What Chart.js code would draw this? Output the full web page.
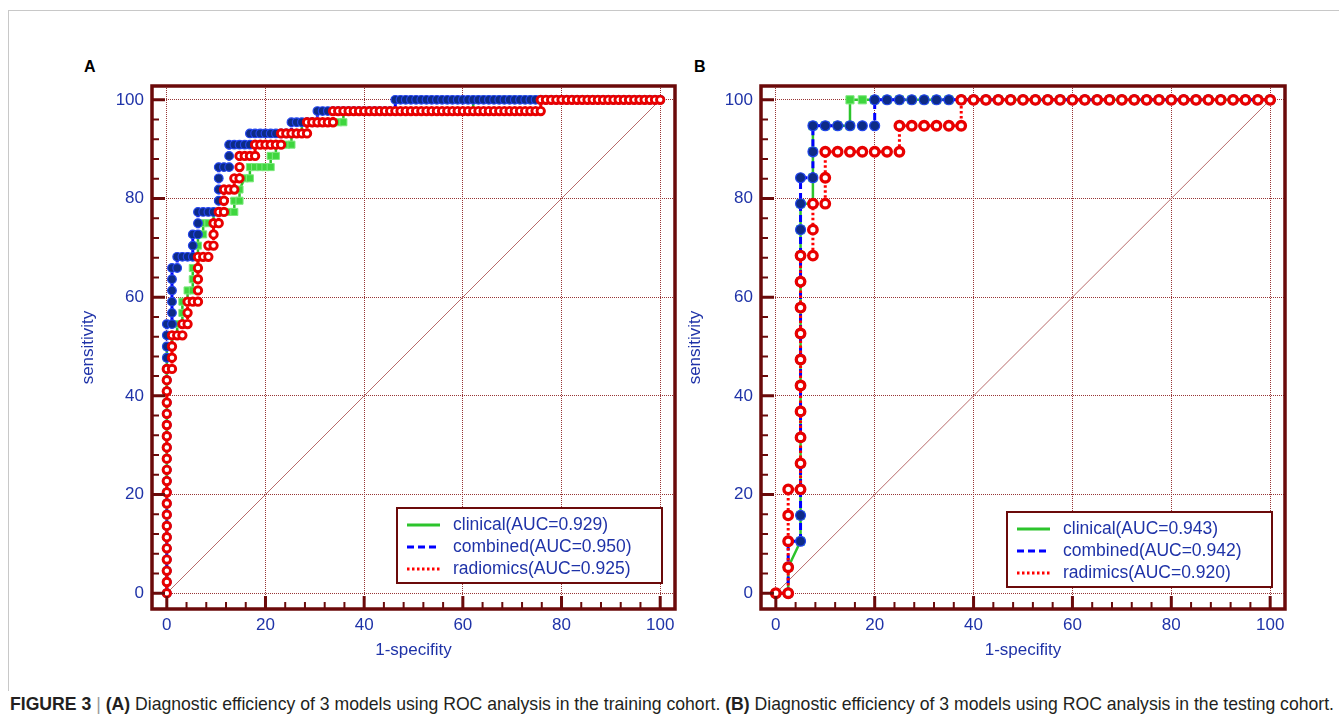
<!DOCTYPE html>
<html>
<head>
<meta charset="utf-8">
<script src="https://cdn.jsdelivr.net/npm/chart.js@4.4.1/dist/chart.umd.min.js"></script>
<style>
    body { margin: 0; background: #fff; width: 1344px; height: 724px; overflow: hidden; position: relative; font-family: 'Liberation Sans', Arial, sans-serif; }
    #border { position: absolute; left: 8px; top: 10px; width: 1330px; height: 680px; border-top: 1px solid #c8c8c8; border-left: 1px solid #c8c8c8; }
    canvas { position: absolute; top: 0; }
    #chartA { left: 0; }
    #chartB { left: 610px; }
    .panel { position: absolute; top: 58px; font: bold 16px 'Liberation Sans', Arial, sans-serif; color: #000; }
    #caption { position: absolute; left: 10px; top: 693px; font-size: 19px; font-family: 'Liberation Sans Narrow', 'Liberation Sans', Arial, sans-serif; color: #231f20; white-space: nowrap; transform-origin: 0 0; }
    #caption .bar { color: #999; }
</style>
</head>
<body>
<div id="border"></div>
<div class="panel" style="left:84px">A</div>
<div class="panel" style="left:694px">B</div>
<canvas id="chartA" width="700" height="690"></canvas>
<canvas id="chartB" width="700" height="690"></canvas>
<div id="caption"><b>FIGURE 3</b> <span class="bar">|</span> <b>(A)</b> Diagnostic efficiency of 3 models using ROC analysis in the training cohort. <b>(B)</b> Diagnostic efficiency of 3 models using ROC analysis in the testing cohort.</div>
<script>
// tick labels (percent)
const axisTicks = [0, 20, 40, 60, 80, 100];
const diagonalLine = [[0, 0], [100, 100]];

// training cohort: [false positives, true positives] per threshold
const trainNeg = 95;
const trainPos = 44;
const trainLegend = ['clinical(AUC=0.929)', 'combined(AUC=0.950)', 'radiomics(AUC=0.925)'];

const trainClinical = [
    [0,0],[0,1],[0,2],[0,3],[0,4],[0,5],[0,6],[0,7],[0,8],[0,9],[0,10],[0,11],[0,12],[0,13],[0,14],[0,15],[0,16],[0,17],[0,18],[0,19],[0,20],[0,21],[0,22],
    [1,22],[1,23],[2,23],[2,24],[3,24],[3,25],[3,26],[4,26],[4,27],[5,27],[5,28],[5,29],[6,29],[6,30],[6,31],[6,32],[7,32],[7,33],[8,33],[9,33],[9,34],
    [10,34],[11,34],[12,34],[13,34],[13,35],[14,35],[14,36],[15,37],[16,37],[16,38],[17,38],[18,38],[19,38],[20,38],[20,39],[21,39],[21,40],[22,40],[23,40],[24,40],
    [24,41],[25,41],[26,41],[26,42],[27,42],[28,42],[29,42],[30,42],[31,42],[32,42],[33,42],[34,42],
    [34,43],[35,43],[36,43],[37,43],[38,43],[39,43],[40,43],[41,43],[42,43],[43,43],[44,43],[45,43],[46,43],[47,43],[48,43],[49,43],[50,43],[51,43],[52,43],[53,43],[54,43],[55,43],[56,43],[57,43],[58,43],[59,43],
    [59,44],[60,44],[61,44],[62,44],[63,44],[64,44],[65,44],[66,44],[67,44],[68,44],[69,44],[70,44],[71,44],[72,44],[73,44],[74,44],[75,44],[76,44],[77,44],
    [78,44],[79,44],[80,44],[81,44],[82,44],[83,44],[84,44],[85,44],[86,44],[87,44],[88,44],[89,44],[90,44],[91,44],[92,44],[93,44],[94,44],[95,44]
];

const trainCombined = [
    [0,0],[0,1],[0,2],[0,3],[0,4],[0,5],[0,6],[0,7],[0,8],[0,9],[0,10],[0,11],[0,12],[0,13],[0,14],[0,15],[0,16],[0,17],[0,18],[0,19],[0,20],[0,21],[0,22],[0,23],[0,24],
    [1,24],[1,25],[1,26],[1,27],[1,28],[1,29],[2,29],[2,30],[3,30],[4,30],[5,30],[5,31],[5,32],[6,32],[6,33],[6,34],
    [7,34],[8,34],[9,34],[10,34],[10,35],[10,36],[10,37],[10,38],[11,38],[12,38],[12,39],[12,40],[13,40],[14,40],[15,40],[16,40],
    [16,41],[17,41],[18,41],[19,41],[20,41],[21,41],[22,41],[23,41],[24,41],[24,42],[25,42],[26,42],[27,42],[28,42],[29,42],
    [29,43],[30,43],[31,43],[32,43],[33,43],[34,43],[35,43],[36,43],[37,43],[38,43],[39,43],[40,43],[41,43],[42,43],[43,43],[44,43],
    [44,44],[45,44],[46,44],[47,44],[48,44],[49,44],[50,44],[51,44],[52,44],[53,44],[54,44],[55,44],[56,44],[57,44],[58,44],[59,44],[60,44],
    [61,44],[62,44],[63,44],[64,44],[65,44],[66,44],[67,44],[68,44],[69,44],[70,44],[71,44],[72,44],[73,44],[74,44],[75,44],[76,44],[77,44],
    [78,44],[79,44],[80,44],[81,44],[82,44],[83,44],[84,44],[85,44],[86,44],[87,44],[88,44],[89,44],[90,44],[91,44],[92,44],[93,44],[94,44],[95,44]
];

const trainRadiomics = [
    [0,0],[0,1],[0,2],[0,3],[0,4],[0,5],[0,6],[0,7],[0,8],[0,9],[0,10],[0,11],[0,12],[0,13],[0,14],[0,15],[0,16],[0,17],[0,18],[0,19],[0,20],
    [1,20],[1,21],[1,22],[1,23],[2,23],[3,23],[3,24],[4,24],[4,25],[4,26],[5,26],[6,26],[6,27],[6,28],[6,29],[6,30],[7,30],[8,30],[8,31],[9,31],
    [9,32],[9,33],[10,33],[10,34],[11,34],[11,35],[11,36],[12,36],[13,36],[13,37],[14,37],[14,38],[14,39],[15,39],[16,39],[17,39],
    [17,40],[18,40],[19,40],[20,40],[21,40],[22,40],[22,41],[23,41],[24,41],[25,41],[26,41],[27,41],[27,42],[28,42],[29,42],[30,42],[31,42],[32,42],
    [32,43],[33,43],[34,43],[35,43],[36,43],[37,43],[38,43],[39,43],[40,43],[41,43],[42,43],[43,43],[44,43],[45,43],[46,43],[47,43],[48,43],[49,43],
    [50,43],[51,43],[52,43],[53,43],[54,43],[55,43],[56,43],[57,43],[58,43],[59,43],[60,43],[61,43],[62,43],[63,43],[64,43],[65,43],[66,43],[67,43],
    [68,43],[69,43],[70,43],[71,43],[72,43],
    [72,44],[73,44],[74,44],[75,44],[76,44],[77,44],[78,44],[79,44],[80,44],[81,44],[82,44],[83,44],[84,44],[85,44],[86,44],[87,44],[88,44],
    [89,44],[90,44],[91,44],[92,44],[93,44],[94,44],[95,44]
];

// testing cohort
const testNeg = 40;
const testPos = 19;
const testLegend = ['clinical(AUC=0.943)', 'combined(AUC=0.942)', 'radimics(AUC=0.920)'];

const testClinical = [
    [0,0],[1,0],[1,1],[2,2],[2,3],[2,4],[2,5],[2,6],[2,7],[2,8],[2,9],[2,10],[2,11],[2,12],[2,13],[2,14],[2,15],
    [3,15],[3,16],[3,17],[3,18],[4,18],[5,18],[6,18],[6,19],[7,19],[8,19],[9,19],[10,19],[11,19],[12,19],[13,19],
    [14,19],[15,19],[16,19],[17,19],[18,19],[19,19],[20,19],[21,19],[22,19],[23,19],[24,19],[25,19],[26,19],[27,19],
    [28,19],[29,19],[30,19],[31,19],[32,19],[33,19],[34,19],[35,19],[36,19],[37,19],[38,19],[39,19],[40,19]
];

const testCombined = [
    [0,0],[1,0],[1,1],[1,2],[2,2],[2,3],[2,4],[2,5],[2,6],[2,7],[2,8],[2,9],[2,10],[2,11],[2,12],[2,13],[2,14],[2,15],[2,16],
    [3,16],[3,17],[3,18],[4,18],[5,18],[6,18],[7,18],[8,18],[8,19],[9,19],[10,19],[11,19],[12,19],[13,19],[14,19],
    [15,19],[16,19],[17,19],[18,19],[19,19],[20,19],[21,19],[22,19],[23,19],[24,19],[25,19],[26,19],[27,19],[28,19],
    [29,19],[30,19],[31,19],[32,19],[33,19],[34,19],[35,19],[36,19],[37,19],[38,19],[39,19],[40,19]
];

const testRadiomics = [
    [0,0],[1,0],[1,1],[1,2],[1,3],[1,4],[2,4],[2,5],[2,6],[2,7],[2,8],[2,9],[2,10],[2,11],[2,12],[2,13],
    [3,13],[3,14],[3,15],[4,15],[4,16],[4,17],[5,17],[6,17],[7,17],[8,17],[9,17],[10,17],
    [10,18],[11,18],[12,18],[13,18],[14,18],[15,18],[15,19],[16,19],[17,19],[18,19],[19,19],[20,19],[21,19],
    [22,19],[23,19],[24,19],[25,19],[26,19],[27,19],[28,19],[29,19],[30,19],[31,19],[32,19],[33,19],[34,19],
    [35,19],[36,19],[37,19],[38,19],[39,19],[40,19]
];

const axisColor = '#6b0a0a';
const gridColor = '#983535';
const labelColor = '#1f33a8';
const lineColors = ['#2cc42c', '#0000ff', '#ff0000'];
const lineDashes = [[], [7, 4], [2.5, 2.5]];

Chart.defaults.font.family = "'Liberation Sans', Arial, sans-serif";
Chart.defaults.font.size = 17;

function seriesStyle(i, k) {
    if (i === 0) {
        return {
            borderColor: lineColors[0], borderWidth: 2.5, borderDash: lineDashes[0],
            pointStyle: 'rect', pointRadius: 5 * k, pointBackgroundColor: '#3ed63e',
            pointBorderColor: '#7ce87c', pointBorderWidth: 1, order: 3
        };
    }
    if (i === 1) {
        return {
            borderColor: lineColors[1], borderWidth: 3, borderDash: lineDashes[1],
            pointStyle: 'circle', pointRadius: 4.3 * k, pointBackgroundColor: '#0d2b86',
            pointBorderColor: '#2244ee', pointBorderWidth: 1.2, order: 2
        };
    }
    return {
        borderColor: lineColors[2], borderWidth: 3, borderDash: lineDashes[2],
        pointStyle: 'circle', pointRadius: 3.7 * k, pointBackgroundColor: '#ffffff',
        pointBorderColor: '#e80000', pointBorderWidth: 2.9 * k, order: 1
    };
}

// frame, inward ticks and boxed legend
const rocFrame = {
    id: 'rocFrame',
    afterDraw(chart, args, opts) {
        const {ctx, chartArea: a, scales: {x, y}} = chart;
        ctx.save();
        ctx.strokeStyle = axisColor;
        for (let v = 0; v <= 100; v += 4) {
            const major = v % 20 === 0;
            const len = major ? 13 : 7;
            ctx.lineWidth = major ? 3 : 2;
            const px = x.getPixelForValue(v);
            const py = y.getPixelForValue(v);
            ctx.beginPath();
            ctx.moveTo(px, a.bottom);
            ctx.lineTo(px, a.bottom - len);
            ctx.moveTo(a.left, py);
            ctx.lineTo(a.left + len, py);
            ctx.stroke();
        }
        ctx.lineWidth = 3.5;
        ctx.strokeRect(a.left, a.top, a.right - a.left, a.bottom - a.top);

        const bl = a.right - opts.right - opts.width;
        const bt = a.bottom - opts.bottom - opts.height;
        ctx.fillStyle = '#fff';
        ctx.fillRect(bl, bt, opts.width, opts.height);
        ctx.lineWidth = 2;
        ctx.strokeRect(bl, bt, opts.width, opts.height);
        ctx.font = "17.5px 'Liberation Sans', Arial, sans-serif";
        ctx.textBaseline = 'middle';
        opts.labels.forEach((txt, i) => {
            const ly = bt + 17 + i * 22;
            ctx.strokeStyle = lineColors[i];
            ctx.lineWidth = 3;
            ctx.setLineDash(lineDashes[i]);
            ctx.beginPath();
            ctx.moveTo(bl + 10, ly);
            ctx.lineTo(bl + 43, ly);
            ctx.stroke();
            ctx.setLineDash([]);
            ctx.fillStyle = labelColor;
            ctx.fillText(txt, bl + 56, ly);
        });
        ctx.restore();
    }
};

function rocChart(canvasId, pairsList, nNeg, nPos, legendLabels, geom) {
    const datasets = pairsList.map((pairs, i) => Object.assign({
        label: legendLabels[i],
        data: pairs.map(([fp, tp]) => ({x: fp * 100 / nNeg, y: tp * 100 / nPos})),
        tension: 0,
        fill: false
    }, seriesStyle(i, geom.k)));
    datasets.push({
        label: 'reference',
        data: diagonalLine.map(([a, b]) => ({x: a, y: b})),
        borderColor: '#b86a6a', borderWidth: 1, pointRadius: 0, order: 4
    });

    return new Chart(document.getElementById(canvasId), {
        type: 'line',
        data: {datasets},
        options: {
            responsive: false,
            animation: false,
            layout: {padding: {left: geom.padLeft, top: 86, right: geom.padRight, bottom: 29}},
            plugins: {
                legend: {display: false},
                tooltip: {enabled: false},
                rocFrame: {labels: legendLabels, right: 13, bottom: geom.legendBottom, width: 265, height: 75}
            },
            scales: {
                x: {
                    type: 'linear', min: -3, max: 103,
                    afterBuildTicks: s => { s.ticks = axisTicks.map(v => ({value: v})); },
                    afterFit: s => { s.height = 52; },
                    grid: {color: gridColor, lineWidth: 1, drawTicks: false},
                    border: {display: false, dash: [1, 1]},
                    ticks: {color: labelColor, padding: 6, callback: v => v},
                    title: {display: true, text: '1-specifity', color: labelColor, padding: 0}
                },
                y: {
                    type: 'linear', min: -3.2, max: 102.8,
                    afterBuildTicks: s => { s.ticks = axisTicks.map(v => ({value: v})); },
                    afterFit: s => { s.width = geom.yWidth; },
                    grid: {color: gridColor, lineWidth: 1, drawTicks: false},
                    border: {display: false, dash: [1, 1]},
                    ticks: {color: labelColor, padding: 8, callback: v => v},
                    title: {display: true, text: 'sensitivity', color: labelColor, padding: 0}
                }
            }
        },
        plugins: [rocFrame]
    });
}

rocChart('chartA', [trainClinical, trainCombined, trainRadiomics], trainNeg, trainPos, trainLegend,
    {padLeft: 78, yWidth: 74, padRight: 25, legendBottom: 26, k: 1});
rocChart('chartB', [testClinical, testCombined, testRadiomics], testNeg, testPos, testLegend,
    {padLeft: 75, yWidth: 76, padRight: 25, legendBottom: 22, k: 1.15});

const cap = document.getElementById('caption');
cap.style.transform = 'scaleX(' + (1324 / cap.getBoundingClientRect().width) + ')';
</script>
</body>
</html>
